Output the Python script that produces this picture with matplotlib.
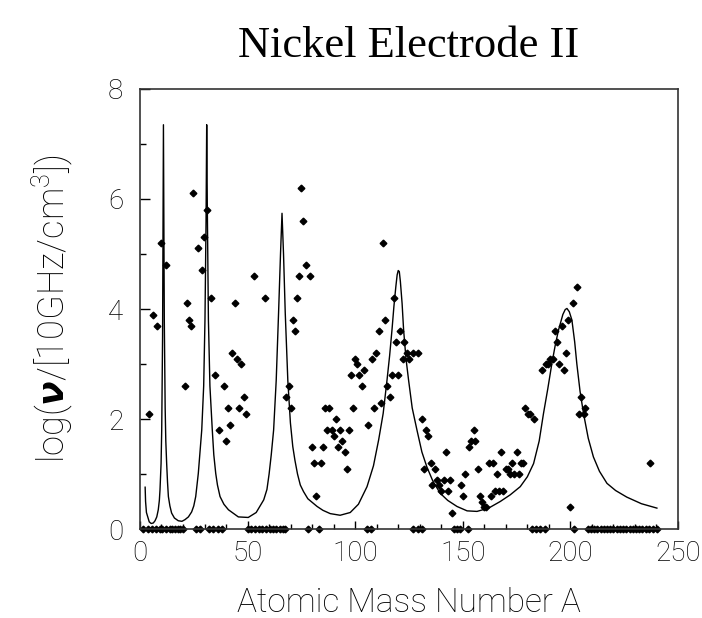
import matplotlib
matplotlib.use('Agg')
import matplotlib.pyplot as plt
import numpy as np

# 理论曲线
curve_A = [2.4, 2.6, 3.0, 3.6, 4.3, 5.2, 6.2, 7.0, 7.8, 8.5, 9.0, 9.3, 9.8, 10.1, 10.5, 10.9,
           11.3, 11.7, 12.0, 12.4, 12.8, 13.2, 13.9, 14.7, 16.0, 17.8, 19.5, 20.9, 22.5, 24.0,
           25.0, 25.9, 27.1, 28.1, 28.7, 29.6, 30.2, 30.7, 31.0, 31.3, 31.8, 32.5, 33.6, 34.3,
           35.2, 36.0, 37.2, 39.0, 41.1, 45.7, 50.3, 54.0, 57.5, 59.0, 60.0, 61.0, 62.1, 63.3,
           64.4, 65.3, 66.0, 66.7, 67.5, 68.7, 69.9, 71.0, 72.0, 73.2, 74.5, 76.0, 78.0, 82.3,
           85.0, 88.4, 93.0, 97.7, 101.5, 105.5, 108.5, 110.9, 113.0, 114.8, 116.0, 117.1,
           118.0, 118.9, 119.5, 120.0, 120.5, 121.0, 121.8, 122.5, 123.6, 124.8, 126.5, 128.7,
           131.0, 133.3, 136.0, 139.5, 143.0, 147.3, 152.0, 156.6, 162.0, 167.4, 172.0, 176.7,
           180.0, 182.9, 185.5, 187.5, 189.5, 191.4, 193.0, 194.5, 196.5, 197.6, 198.4, 199.5,
           200.7, 202.0, 203.0, 204.5, 206.1, 208.3, 210.7, 213.5, 217.0, 221.0, 226.2, 233.0,
           240.2]
curve_v = [0.76, 0.5, 0.3, 0.22, 0.13, 0.10, 0.11, 0.15, 0.22, 0.35, 0.52, 0.71, 1.19, 1.8, 3.5, 7.35,
           3.8, 2.2, 1.6, 1.19, 0.85, 0.59, 0.42, 0.29, 0.2, 0.15, 0.14, 0.17, 0.22, 0.31,
           0.42, 0.59, 1.01, 1.5, 1.8, 2.6, 3.8, 5.6, 7.35, 5.8, 3.8, 2.6, 1.8, 1.35,
           1.01, 0.8, 0.59, 0.45, 0.35, 0.22, 0.21, 0.3, 0.53, 0.72, 1.0, 1.35, 1.8, 2.7,
           3.93, 5.0, 5.74, 5.0, 3.93, 2.7, 1.93, 1.5, 1.25, 1.0, 0.8, 0.68, 0.55, 0.41,
           0.34, 0.28, 0.25, 0.3, 0.45, 0.77, 1.15, 1.62, 2.1, 2.71, 3.15, 3.62,
           4.05, 4.41, 4.62, 4.70, 4.68, 4.5, 4.1, 3.62, 3.1, 2.71, 2.2, 1.8,
           1.4, 1.13, 0.88, 0.65, 0.52, 0.41, 0.33, 0.32, 0.38, 0.5, 0.62, 0.77,
           0.95, 1.19, 1.6, 2.1, 2.55, 3.01, 3.35, 3.62, 3.9, 3.99, 4.01, 3.95,
           3.8, 3.4, 3.0, 2.5, 2.1, 1.65, 1.31, 1.05, 0.83, 0.7, 0.58, 0.46,
           0.38]

# 测量点
meas_A = [4.0, 5.9, 7.9, 9.8, 11.9, 20.9, 21.9, 22.9, 23.9, 24.8, 26.8, 28.8, 29.9, 31.0, 33.0,
          35.0, 36.9, 39.0, 40.0, 40.9, 42.0, 42.9, 44.0, 45.1, 46.0, 47.1, 48.2, 49.1, 53.0,
          57.9, 68.0, 69.1, 70.0, 71.1, 72.0, 73.0, 74.0, 75.0, 75.9, 77.0, 79.0, 79.9, 81.0,
          81.9, 83.9, 85.0, 86.0, 87.0, 88.0, 89.0, 90.0, 91.1, 92.0, 93.1, 94.0, 95.1, 96.0,
          97.1, 98.0, 99.0, 100.0, 101.0, 101.9, 103.0, 103.9, 105.9, 107.9, 108.9, 109.9,
          110.9, 112.0, 112.9, 114.0, 114.9, 116.0, 116.9, 118.0, 119.0, 120.0, 120.9, 122.0,
          122.9, 124.0, 125.0, 127.0, 129.0, 131.0, 132.0, 133.0, 133.9, 135.0, 135.9, 137.1,
          138.0, 139.1, 140.0, 141.1, 142.0, 143.1, 144.0, 145.1, 149.1, 150.1, 151.0, 153.0,
          153.9, 155.0, 155.9, 157.0, 158.0, 159.0, 160.0, 160.9, 162.0, 162.9, 164.0, 164.9,
          166.0, 166.9, 167.9, 168.9, 170.0, 171.0, 172.0, 173.0, 174.0, 175.0, 176.1, 177.0,
          178.1, 179.0, 180.1, 181.0, 183.0, 187.0, 188.6, 189.7, 190.6, 191.7, 192.9, 194.0,
          194.9, 196.0, 197.0, 198.0, 199.0, 199.9, 201.0, 203.0, 204.1, 205.0, 206.1, 207.0,
          237.1]
meas_v = [2.1, 3.9, 3.7, 5.2, 4.8, 2.6, 4.1, 3.8, 3.7, 6.1, 5.1, 4.7, 5.3, 5.8, 4.2,
          2.8, 1.8, 2.6, 1.6, 2.2, 1.9, 3.2, 4.1, 3.1, 2.2, 3.0, 2.4, 2.1, 4.6,
          4.2, 2.4, 2.6, 2.2, 3.8, 3.6, 4.2, 4.6, 6.2, 5.6, 4.8, 4.6, 1.5, 1.2,
          0.6, 1.2, 1.5, 2.2, 1.8, 2.2, 1.8, 1.7, 2.0, 1.5, 1.8, 1.6, 1.4, 1.1,
          1.8, 2.8, 2.2, 3.1, 3.0, 2.8, 2.6, 2.9, 1.9, 3.1, 2.2, 3.2,
          3.6, 2.3, 5.2, 3.8, 2.6, 2.4, 2.8, 4.2, 3.4, 2.8, 3.6, 3.1,
          3.4, 3.2, 3.1, 3.2, 3.2, 2.0, 1.1, 1.8, 1.7, 1.2, 0.8, 1.1,
          0.9, 0.8, 0.7, 0.9, 1.4, 0.7, 0.9, 0.3, 0.8, 0.6, 1.0, 1.5,
          1.6, 1.8, 1.6, 1.1, 0.6, 0.5, 0.4, 0.4, 1.2, 0.6, 1.2, 0.7,
          1.0, 0.7, 1.4, 0.7, 1.1, 1.1, 1.0, 1.2, 1.0, 1.4, 1.0, 1.2,
          1.2, 2.2, 2.1, 2.1, 2.0, 2.9, 3.0, 3.0, 3.1, 3.1, 3.6, 3.4,
          3.0, 3.7, 2.9, 3.2, 3.8, 0.4, 4.1, 4.4, 2.1, 2.4, 2.1, 2.2,
          1.2]

# 零值点（落在横轴上）
zero_A = [1.4, 3.6, 5.4, 7.3, 9.2, 10.4, 12.3, 13.8, 15.0, 16.3, 17.5, 18.8, 20.0, 26.0, 28.0,
          32.0, 34.0, 36.1, 38.1, 50.0, 51.6, 53.6, 55.1, 56.7, 58.7, 60.2, 61.8, 63.4, 64.9,
          66.5, 67.5, 78.0, 83.0, 105.5, 107.3, 127.0, 129.0, 131.0, 145.7, 147.3, 148.5, 152.2,
          182.1, 184.1, 186.0, 188.0, 201.9, 208.0, 209.5, 211.0, 212.5, 214.0, 215.5, 217.0,
          218.5, 220.0, 221.5, 223.0, 224.5, 226.0, 227.5, 229.0, 230.5, 232.0, 233.5, 235.0,
          236.5, 238.5, 240.2]

plt.rcParams['font.family'] = ['Roboto', 'DejaVu Sans']
plt.rcParams['font.weight'] = 'light'
plt.rcParams['axes.labelweight'] = 'light'
plt.rcParams['mathtext.fontset'] = 'custom'
plt.rcParams['mathtext.rm'] = 'Roboto:light'
plt.rcParams['mathtext.it'] = 'Roboto:italic:light'
plt.rcParams['mathtext.bf'] = 'DejaVu Sans:bold:italic'

fig = plt.figure(figsize=(7.02, 6.18), dpi=100)
ax = fig.add_axes([0.1994, 0.144, 0.7664, 0.712])

ax.plot(curve_A, curve_v, color='black', linewidth=1.0)
ax.plot(meas_A, meas_v, linestyle='none', marker='D', markersize=3.4,
        color='black', clip_on=False)
ax.plot(zero_A, [0] * len(zero_A), linestyle='none', marker='D', markersize=3.4,
        color='black', clip_on=False)

ax.set_xlim(0, 250)
ax.set_ylim(0, 8)
ax.set_xticks([0, 50, 100, 150, 200, 250])
ax.set_xticks(np.arange(0, 251, 10), minor=True)
ax.set_yticks([0, 2, 4, 6, 8])
ax.set_yticks(np.arange(0, 9, 1), minor=True)
ax.tick_params(axis='both', which='both', direction='in', top=False, right=False)
ax.tick_params(axis='x', which='major', length=6, width=1, pad=8, labelsize=20)
ax.tick_params(axis='x', which='minor', length=3.5, width=1)
ax.tick_params(axis='y', which='major', length=7, width=1, pad=12, labelsize=20)
ax.tick_params(axis='y', which='minor', length=4, width=1)
for s in ax.spines.values():
    s.set_linewidth(1.2)
    s.set_color('#333333')

ax.set_xlabel('Atomic Mass Number A', fontsize=24, labelpad=14)
ax.set_ylabel(r'log($\mathbf{\nu}$/[10GHz/cm$^3$])', fontsize=26, labelpad=24)
fig.text(0.5826, 0.925, 'Nickel Electrode II', ha='center', va='center',
         fontsize=32, family='Liberation Serif', weight='normal')

fig.savefig('out.png', dpi=100)
